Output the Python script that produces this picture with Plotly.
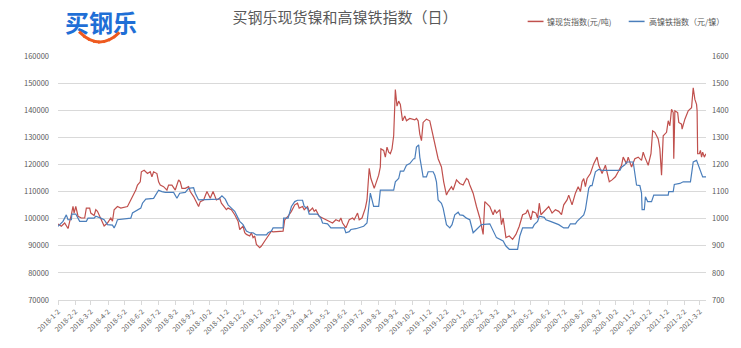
import math
import plotly.graph_objects as go

# ---------------- data ----------------
tick_labels = [f"{y}-{m}-2" for y in (2018, 2019, 2020) for m in range(1, 13)] + ["2021-1-2", "2021-2-2", "2021-3-2"]

nickel_dates = [
"2018-01-02","2018-01-08","2018-01-14","2018-01-20","2018-01-26","2018-01-29","2018-01-31","2018-02-03","2018-02-07","2018-02-13",
"2018-02-19","2018-02-22","2018-02-28","2018-03-02","2018-03-08","2018-03-11","2018-03-14","2018-03-20","2018-03-26","2018-04-01",
"2018-04-07","2018-04-10","2018-04-13","2018-04-19","2018-04-25","2018-05-07","2018-05-13","2018-05-16","2018-05-22","2018-05-25",
"2018-05-30","2018-06-01","2018-06-06","2018-06-12","2018-06-17","2018-06-20","2018-06-23","2018-06-29","2018-07-02","2018-07-05",
"2018-07-11","2018-07-17","2018-07-20","2018-07-26","2018-08-01","2018-08-07","2018-08-10","2018-08-13","2018-08-19","2018-08-25",
"2018-08-28","2018-09-03","2018-09-06","2018-09-09","2018-09-12","2018-09-15","2018-09-21","2018-09-27","2018-10-03","2018-10-08",
"2018-10-14","2018-10-20","2018-10-23","2018-11-01","2018-11-04","2018-11-10","2018-11-13","2018-11-16","2018-11-22","2018-11-25",
"2018-12-01","2018-12-04","2018-12-07","2018-12-13","2018-12-16","2018-12-19","2018-12-22","2018-12-25","2018-12-31","2019-01-03",
"2019-01-09","2019-01-15","2019-01-21","2019-01-24","2019-02-11","2019-02-14","2019-02-20","2019-02-26","2019-03-01","2019-03-04",
"2019-03-09","2019-03-12","2019-03-18","2019-03-21","2019-03-27","2019-03-30","2019-04-05","2019-04-08","2019-04-11","2019-04-17",
"2019-04-23","2019-04-29","2019-05-05","2019-05-11","2019-05-17","2019-05-23","2019-05-26","2019-05-29","2019-06-04","2019-06-07",
"2019-06-10","2019-06-16","2019-06-19","2019-06-25","2019-06-28","2019-07-03","2019-07-09","2019-07-12","2019-07-16","2019-07-19",
"2019-07-25","2019-07-28","2019-08-02","2019-08-05","2019-08-06","2019-08-11","2019-08-14","2019-08-17","2019-08-20","2019-08-23",
"2019-08-26","2019-08-29","2019-09-01","2019-09-04","2019-09-07","2019-09-10","2019-09-14","2019-09-18","2019-09-21","2019-09-27",
"2019-10-06","2019-10-09","2019-10-12","2019-10-15","2019-10-18","2019-10-21","2019-10-27","2019-11-02","2019-11-08","2019-11-11",
"2019-11-17","2019-11-23","2019-11-27","2019-12-02","2019-12-05","2019-12-11","2019-12-14","2019-12-17","2019-12-20","2019-12-26",
"2020-01-01","2020-01-07","2020-01-10","2020-01-13","2020-01-19","2020-01-25","2020-01-31","2020-02-06","2020-02-09","2020-02-18",
"2020-02-24","2020-02-27","2020-03-01","2020-03-07","2020-03-10","2020-03-13","2020-03-18","2020-03-24","2020-03-30","2020-04-05",
"2020-04-11","2020-04-17","2020-04-23","2020-04-26","2020-05-02","2020-05-05","2020-05-11","2020-05-14","2020-05-17","2020-05-20",
"2020-05-23","2020-05-29","2020-06-03","2020-06-09","2020-06-15","2020-06-21","2020-06-26","2020-06-30","2020-07-06","2020-07-09",
"2020-07-15","2020-07-21","2020-07-26","2020-07-30","2020-08-02","2020-08-05","2020-08-08","2020-08-11","2020-08-17","2020-08-23",
"2020-08-29","2020-09-01","2020-09-07","2020-09-13","2020-09-16","2020-09-20","2020-09-25","2020-10-01","2020-10-06","2020-10-12",
"2020-10-15","2020-10-21","2020-10-24","2020-10-30","2020-11-05","2020-11-11","2020-11-17","2020-11-20","2020-11-23","2020-11-29",
"2020-12-04","2020-12-07","2020-12-11","2020-12-17","2020-12-20","2020-12-23","2020-12-26","2021-01-01","2021-01-04","2021-01-07",
"2021-01-10","2021-01-13","2021-01-14","2021-01-16","2021-01-21","2021-01-23","2021-01-28","2021-01-29","2021-02-03","2021-02-09",
"2021-02-15","2021-02-18","2021-02-21","2021-02-24","2021-02-25","2021-02-26","2021-03-01","2021-03-03","2021-03-05","2021-03-07",
"2021-03-10","2021-03-13"]

nickel_values = [
98000,97200,98400,96350,101450,104500,102070,104500,100900,100250,
100250,103900,103900,102070,101200,103300,102700,100250,97300,98400,
100250,99050,103300,104500,103900,104500,106900,108700,110550,112400,
113600,117300,117850,116650,117300,115450,117300,116650,113600,112400,
111800,110550,112400,112400,110550,114300,113600,111200,111200,111800,
110000,108150,106900,105700,104500,106300,106900,110000,107550,110000,
106900,107550,105700,103300,103900,103300,102070,101450,99050,96000,
97200,94800,94200,93600,94800,93000,93600,90500,89300,89900,
91750,93600,95400,95150,95400,99600,100900,102700,103900,105100,
105700,103900,104500,103300,104500,102700,103900,102700,103300,100900,
100250,99600,99050,98400,99600,99050,100250,98400,96600,97800,
99600,100250,99600,102070,99600,100250,103900,106900,118600,114800,
111200,113000,116050,119050,125750,125200,122700,126400,124550,123950,
125750,130600,147600,141500,143350,142150,136100,137900,136100,136950,
136450,136950,136100,131200,128800,135500,136700,136100,130600,128800,
122100,119050,113600,108700,110000,111800,110550,112400,114300,113000,
112400,114800,114300,112400,109400,104500,100250,94200,106300,104500,
101450,103300,102070,103300,97800,100250,93000,93600,92350,94200,
97200,101450,102000,103300,99600,102700,102070,100250,105700,101450,
102070,103300,104500,102070,103300,102700,101450,105100,106900,108700,
105100,109400,111800,110000,113600,114800,111800,114800,116650,120300,
122700,119700,116650,119700,116650,113600,114300,115450,117300,119700,
122700,120300,122700,119050,122100,122700,121500,124550,122700,119700,
123950,132400,131850,129400,125750,116050,130600,131850,136100,134250,
140350,139150,122100,139750,139150,135500,134850,133050,136700,139750,
140950,148250,144000,142150,139750,123950,123950,125200,122700,124550,
122700,123950]

npi_dates = [
"2018-01-02","2018-01-11","2018-01-17","2018-01-20","2018-01-26","2018-01-27","2018-02-03","2018-02-07","2018-02-10","2018-02-22",
"2018-02-25","2018-03-08","2018-03-11","2018-03-20","2018-03-26","2018-04-01","2018-04-10","2018-04-13","2018-04-16","2018-04-19",
"2018-05-13","2018-05-16","2018-05-31","2018-06-03","2018-06-09","2018-06-23","2018-06-26","2018-07-02","2018-07-08","2018-07-14",
"2018-07-29","2018-08-04","2018-08-09","2018-08-19","2018-08-25","2018-09-03","2018-09-06","2018-09-12","2018-10-18","2018-10-24",
"2018-10-30","2018-11-04","2018-11-10","2018-11-16","2018-11-22","2018-11-25","2018-12-01","2018-12-07","2018-12-13","2018-12-19",
"2018-12-25","2019-01-12","2019-01-15","2019-01-21","2019-01-24","2019-02-11","2019-02-12","2019-02-20","2019-02-26","2019-03-04",
"2019-03-09","2019-03-18","2019-03-21","2019-03-27","2019-03-30","2019-04-14","2019-04-20","2019-04-23","2019-05-02","2019-05-08",
"2019-06-01","2019-06-04","2019-06-10","2019-06-13","2019-06-22","2019-06-28","2019-07-06","2019-07-12","2019-07-15","2019-07-18",
"2019-07-24","2019-08-02","2019-08-05","2019-08-29","2019-09-01","2019-09-07","2019-09-10","2019-09-16","2019-09-21","2019-09-27",
"2019-10-04","2019-10-06","2019-10-09","2019-10-13","2019-10-15","2019-10-18","2019-10-21","2019-10-27","2019-10-30","2019-11-08",
"2019-11-11","2019-11-14","2019-11-17","2019-11-23","2019-11-26","2019-12-02","2019-12-08","2019-12-12","2019-12-17","2019-12-23",
"2019-12-26","2020-01-01","2020-01-07","2020-01-13","2020-01-19","2020-01-25","2020-02-03","2020-02-18","2020-02-24","2020-03-01",
"2020-03-13","2020-03-18","2020-03-24","2020-04-08","2020-04-12","2020-04-17","2020-05-05","2020-05-08","2020-05-14","2020-05-17",
"2020-05-26","2020-05-29","2020-06-06","2020-06-15","2020-06-21","2020-06-30","2020-07-08","2020-07-12","2020-07-21","2020-07-24",
"2020-07-30","2020-08-05","2020-08-08","2020-08-11","2020-08-14","2020-08-17","2020-08-20","2020-08-23","2020-08-26","2020-09-01",
"2020-09-07","2020-10-09","2020-10-12","2020-10-18","2020-10-21","2020-11-02","2020-11-05","2020-11-08","2020-11-14","2020-11-17",
"2020-11-18","2020-11-22","2020-11-24","2020-11-28","2020-12-05","2020-12-09","2021-01-04","2021-01-05","2021-01-13","2021-01-15",
"2021-01-25","2021-01-31","2021-02-13","2021-02-16","2021-02-18","2021-02-24","2021-02-26","2021-03-01","2021-03-07","2021-03-13"]

npi_values = [
972,990,1014,996,996,1017,1017,1002,990,990,
1002,1002,1009,1002,996,978,976,966,978,996,
1002,1021,1039,1057,1072,1075,1087,1105,1100,1097,
1097,1075,1094,1097,1112,1114,1094,1069,1072,1084,
1072,1051,1039,1027,1002,990,978,954,948,948,
940,940,948,954,966,966,1002,1002,1045,1063,
1068,1068,1045,1039,1017,1017,1002,984,981,966,
966,948,952,960,963,968,972,984,1051,1094,
1045,1045,1105,1105,1136,1148,1175,1175,1197,1203,
1221,1221,1264,1272,1227,1185,1154,1154,1173,1173,
1160,1136,1069,1057,1039,978,966,978,1014,1024,
1014,1012,1002,996,948,960,978,981,954,930,
918,899,887,887,936,966,966,978,990,1009,
1005,996,990,984,978,966,966,981,981,990,
1002,1014,1033,1075,1112,1122,1122,1148,1173,1182,
1178,1178,1190,1199,1209,1209,1166,1124,1122,1094,
1033,1033,1081,1063,1063,1087,1087,1100,1100,1126,
1130,1136,1136,1178,1209,1215,1203,1190,1154,1154]

nickel_name = "镍现货指数(元/吨)"
npi_name = "高镍铁指数（元/镍）"
title_text = "买钢乐现货镍和高镍铁指数（日）"
logo_text = "买钢乐"

# ---------------- styling ----------------
RED = "#c0504d"
BLUE = "#4a7ebb"
GRID = "#d9d9d9"
TXT = "#595959"
FONT = "Noto Sans CJK SC"
ORANGE = "#ee5a1f"

W, H = 741, 348
L, R, T, B = 58, 29, 56, 45
PW, PH = W - L - R, H - T - B


def px(x):
    return (x - L) / PW


def py(y):
    return (H - B - y) / PH


def tick_date(lbl):
    y, m, d = lbl.split("-")
    return f"{y}-{int(m):02d}-{int(d):02d}"


tick_vals = [tick_date(t) for t in tick_labels]

fig = go.Figure()
fig.add_trace(go.Scatter(x=nickel_dates, y=nickel_values, mode="lines", name=nickel_name,
                         line=dict(color=RED, width=1.2), yaxis="y"))
fig.add_trace(go.Scatter(x=npi_dates, y=npi_values, mode="lines", name=npi_name,
                         line=dict(color=BLUE, width=1.2), yaxis="y2"))

fig.update_layout(
    width=W, height=H, autosize=False,
    margin=dict(l=L, r=R, t=T, b=B, pad=0),
    paper_bgcolor="white", plot_bgcolor="white",
    showlegend=False,
    font=dict(family=FONT, color=TXT),
    title=dict(text=title_text, xref="container", yref="container", x=345 / W, xanchor="center",
               y=1 - 18 / H, yanchor="middle", font=dict(family=FONT, size=15, color=TXT)),
    xaxis=dict(type="date", range=["2018-01-02", "2021-03-13"], tickvals=tick_vals, ticktext=tick_labels,
               tickangle=-45, tickfont=dict(size=7, color=TXT), showgrid=False, zeroline=False,
               showline=True, linecolor=GRID, linewidth=1, ticks="outside", ticklen=4, tickcolor=GRID),
    yaxis=dict(range=[70000, 160000], dtick=10000, tickformat="d", gridcolor=GRID, gridwidth=1,
               zeroline=False, showline=False, tickfont=dict(size=7.5, color=TXT), ticklabelstandoff=8),
    yaxis2=dict(range=[700, 1600], dtick=100, tickformat="d", overlaying="y", side="right",
                showgrid=False, zeroline=False, showline=False, tickfont=dict(size=7.5, color=TXT),
                ticklabelstandoff=5),
)

# manual legend (short line samples like the original)
legend_items = [(532, 548, RED, nickel_name), (634, 650, BLUE, npi_name)]
for x0, x1, col, name in legend_items:
    fig.add_shape(type="line", xref="paper", yref="paper", x0=px(x0), x1=px(x1), y0=py(21), y1=py(21),
                  line=dict(color=col, width=1.5))
    fig.add_annotation(text=name, xref="paper", yref="paper", x=px(x1 + 2), y=py(21), xanchor="left",
                       yanchor="middle", showarrow=False, font=dict(family=FONT, size=8, color=TXT))

# logo: blue text and an orange smile drawn with overlapping arrow-less annotation strokes
fig.add_annotation(text=logo_text, xref="paper", yref="paper", x=px(101), y=py(21),
                   xanchor="center", yanchor="middle", showarrow=False,
                   font=dict(family=FONT, size=24, color="#1f6fd6", weight=600))
arc_pts = [(80, 32), (85, 36.5), (90, 39.4), (95, 41.2), (100, 41.8),
           (105, 41.2), (110, 39.4), (115, 36.5), (120, 32)]
for (xa, ya), (xb, yb) in zip(arc_pts[:-1], arc_pts[1:]):
    seg = math.hypot(xb - xa, yb - ya)
    dx, dy = (xb - xa) / seg, (yb - ya) / seg
    tx, ty = xa - 3 * dx, ya - 3 * dy
    fig.add_annotation(text="", xref="paper", yref="paper", x=px(xb), y=py(yb),
                       axref="pixel", ayref="pixel", ax=tx - xb, ay=ty - yb,
                       showarrow=True, arrowhead=0, arrowwidth=3, arrowcolor=ORANGE, standoff=0,
                       startstandoff=0)

fig.write_html("out.html")
